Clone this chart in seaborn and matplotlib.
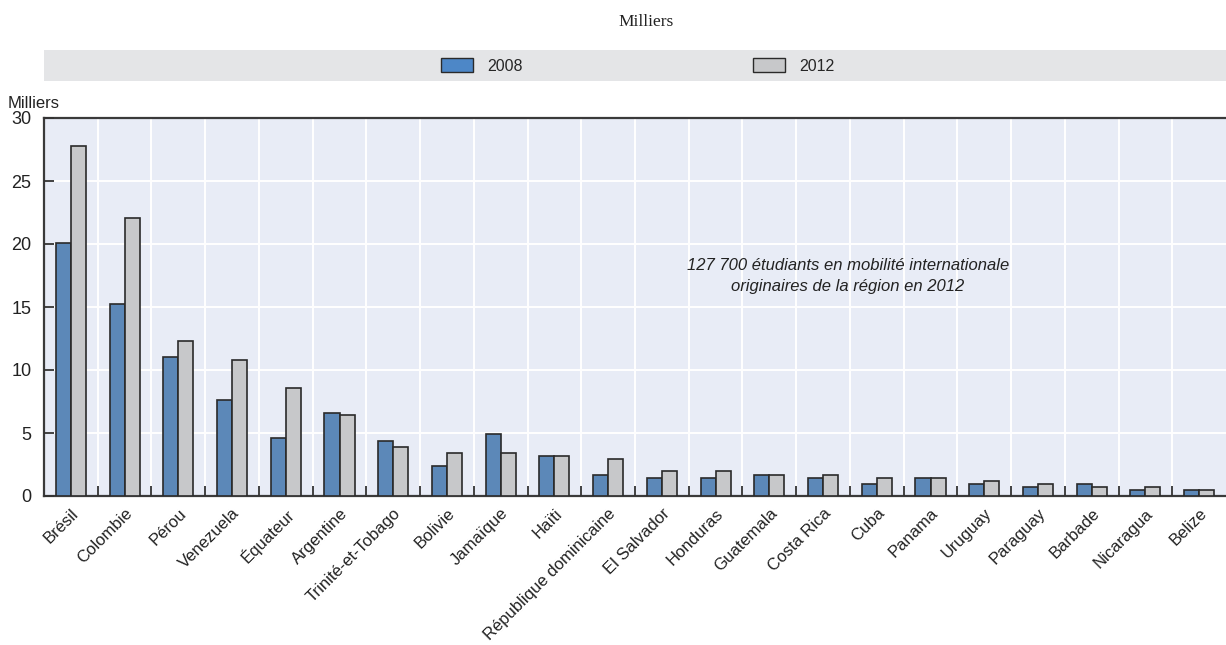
import matplotlib
matplotlib.use("Agg")
import matplotlib.pyplot as plt
from matplotlib.patches import Rectangle
import seaborn as sns
import pandas as pd
import numpy as np

pays = ["Brésil", "Colombie", "Pérou", "Venezuela", "Équateur", "Argentine",
        "Trinité-et-Tobago", "Bolivie", "Jamaïque", "Haïti", "République dominicaine",
        "El Salvador", "Honduras", "Guatemala", "Costa Rica", "Cuba", "Panama",
        "Uruguay", "Paraguay", "Barbade", "Nicaragua", "Belize"]
v2008 = [20.1, 15.2, 11.0, 7.6, 4.6, 6.6, 4.4, 2.4, 4.9, 3.15, 1.7,
         1.45, 1.45, 1.7, 1.45, 0.98, 1.45, 0.98, 0.7, 0.98, 0.48, 0.48]
v2012 = [27.8, 22.1, 12.3, 10.8, 8.6, 6.4, 3.9, 3.4, 3.4, 3.15, 2.9,
         1.95, 1.95, 1.7, 1.7, 1.45, 1.45, 1.2, 0.98, 0.7, 0.7, 0.48]
annees = ["2008", "2012"]
yticks = [0, 5, 10, 15, 20, 25, 30]

df = pd.DataFrame({
    "pays": pays * 2,
    "valeur": v2008 + v2012,
    "annee": [annees[0]] * len(pays) + [annees[1]] * len(pays),
})

sns.set_theme(style="white")
plt.rcParams["font.family"] = ["Liberation Sans", "DejaVu Sans"]

W, H = 1226, 645
fig = plt.figure(figsize=(W / 100, H / 100), dpi=100)
ax = fig.add_axes([44 / W, 1 - 496 / H, 1 - 44 / W, (496 - 118) / H])
ax.set_facecolor("#E8ECF6")
ax.set_axisbelow(False)

blue = "#4D87C7"
grey = "#C7C8CA"
sns.barplot(data=df, x="pays", y="valeur", hue="annee", palette=[blue, grey],
            width=0.56, edgecolor="#2a2a2a", linewidth=1.2, ax=ax, legend=False,
            zorder=3)

n = len(pays)
ax.set_xlim(-0.5, n - 0.5)
ax.set_ylim(0, 30)
ax.set_yticks(yticks)
ax.set_yticklabels([str(t) for t in yticks], fontsize=13, color="#222222")
for t in yticks[1:-1]:
    ax.axhline(t, color="white", lw=1.4, zorder=1)
for b in np.arange(0.5, n - 0.5, 1):
    ax.axvline(b, color="white", lw=1.4, zorder=1)
ax.set_xticks(np.arange(n))
ax.set_xticklabels(pays, rotation=45, ha="right", rotation_mode="anchor",
                   fontsize=12, color="#222222")
ax.tick_params(axis="x", length=0, pad=7)
ax.set_xticks(np.arange(0.5, n - 0.5, 1), minor=True)
ax.tick_params(axis="x", which="minor", direction="in", length=7, width=1.3,
               color="#333333", bottom=True)
ax.tick_params(axis="y", direction="in", length=7, width=1.3, color="#333333",
               left=True, pad=9)
ax.set_xlabel("")
ax.set_ylabel("")
for s in ["left", "bottom", "top"]:
    ax.spines[s].set_color("#3a3a3a")
    ax.spines[s].set_linewidth(1.6)
ax.spines["right"].set_visible(False)

fig.text(8 / W, 1 - 103 / H, "Milliers", fontsize=12, color="#222222",
         ha="left", va="center")
fig.text(646 / W, 1 - 22 / H, "Milliers", fontsize=12.5, color="#222222",
         ha="center", va="center", family=["Liberation Serif", "DejaVu Serif"])

ax.text(848 / W, 1 - 276 / H, "127 700 étudiants en mobilité internationale\n"
        "originaires de la région en 2012", transform=fig.transFigure,
        ha="center", va="center", fontsize=12, style="italic", color="#222222",
        linespacing=1.55)

# legend band
fig.patches.append(Rectangle((44 / W, 1 - 81 / H), 1 - 44 / W, 31 / H,
                             transform=fig.transFigure, facecolor="#E4E5E7",
                             edgecolor="none", zorder=0))
handles = [Rectangle((0, 0), 1, 1, facecolor=blue, edgecolor="#2a2a2a", lw=1.0),
           Rectangle((0, 0), 1, 1, facecolor=grey, edgecolor="#2a2a2a", lw=1.0)]
fig.legend(handles, annees, loc="center left", bbox_to_anchor=(441 / W, 1 - 66 / H),
           ncol=2, frameon=False, fontsize=11.5, handlelength=2.0, handleheight=0.9,
           handletextpad=0.9, columnspacing=14.4, borderaxespad=0, borderpad=0)

fig.savefig("out.png", dpi=100)
